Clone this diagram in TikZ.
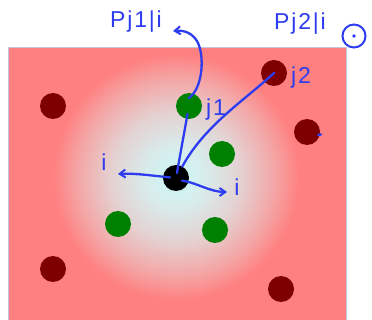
\documentclass[tikz,border=0pt]{standalone}
\usepackage{fontspec}
\setmainfont{Liberation Sans}
\usepackage{xcolor}
\usetikzlibrary{
  arrows.meta,
  calc,
}
\definecolor{redbg}{HTML}{FF8080}
\definecolor{darkdot}{HTML}{7F0000}
\definecolor{greendot}{HTML}{008000}
\definecolor{ink}{HTML}{2E3CF0}
\definecolor{frame}{HTML}{C4C4DC}
\definecolor{glowa}{HTML}{CCF8F8}
\definecolor{glowb}{HTML}{D8ECEC}
\definecolor{glowc}{HTML}{E4D2D2}
\definecolor{glowd}{HTML}{F4A6A6}
\pgfdeclareradialshading{glow}{\pgfpoint{0bp}{0bp}}{%
  color(0bp)=(glowa); color(6bp)=(glowb); color(13bp)=(glowc);
  color(20bp)=(glowd); color(25bp)=(redbg); color(50bp)=(redbg)}
\tikzset{
  >={Straight Barb[angle=70:7pt, line width=2pt]},
  dot/.style={circle, fill=#1, minimum size=26pt, inner sep=0pt},
  pen/.style={draw=ink, line width=2.3pt, line cap=round, line join=round},
  hand/.style={text=ink, font=\fontsize{23}{23}\selectfont\addfontfeature{LetterSpace=8}, inner sep=0pt},
  odot/.style={circle, draw=ink, line width=2pt, minimum size=23pt, inner sep=0pt},
}

\begin{document}
\begin{tikzpicture}[x=1pt,y=-1pt]
  \useasboundingbox (0,0) rectangle (372,320);

  % backdrop
  \fill[redbg] (8,47) rectangle (346,320);
  \shade[shading=glow] (176,177) circle (123);
  \draw[frame] (8,320) -- (8,47) -- (346,47) -- (346,320);

  % far points
  \node[dot=darkdot] (r1) at (53,106) {};
  \node[dot=darkdot] (j2) at (274,73) {};
  \node[dot=darkdot] (r3) at (307,132) {};
  \node[dot=darkdot] (r4) at (53,269) {};
  \node[dot=darkdot] (r5) at (281,289) {};

  % near points
  \node[dot=greendot] (j1) at (189,106) {};
  \node[dot=greendot] (g2) at (222,154) {};
  \node[dot=greendot] (g3) at (118,224) {};
  \node[dot=greendot] (g4) at (215,230) {};

  \node[dot=black] (pi) at (176,178) {};

  % ink notes
  \node[hand] (pa) at (136,22) {Pj1|i};
  \node[hand] (pb) at (300,24) {Pj2|i};
  \node[odot] (sym) at (354,36) {};
  \fill[ink] (sym.center) circle (1.8);
  \node[hand] (lj1) at (216,110) {j1};
  \node[hand] (lj2) at (301,78) {j2};
  \node[hand] (li1) at (104,162) {i};
  \node[hand] (li2) at (237,187) {i};

  \coordinate (tipa) at (173,31);
  \coordinate (tipl) at (118,174);
  \coordinate (tipr) at (227,192);

  \draw[pen, ->] ($(j1.center)+(0,-8)$) .. controls (203,88) and (205,55) .. (197,41)
    .. controls (192,33) and (184,30) .. (tipa);
  \draw[pen, shorten <=8pt, shorten >=5pt] (j1.center) -- (pi.center);
  \draw[pen, shorten >=13pt] (j2.center) .. controls (245,100) and (205,125) .. (pi.center);
  \draw[pen, ->, shorten <=6pt] (pi.center) .. controls (155,176) and (135,173) .. (tipl);
  \draw[pen, ->, shorten <=6pt] ($(pi.center)+(0,2)$) .. controls (195,182) and (210,192) .. (tipr);
  \draw[pen] (318,135) -- (321,134.5);
\end{tikzpicture}
\end{document}
